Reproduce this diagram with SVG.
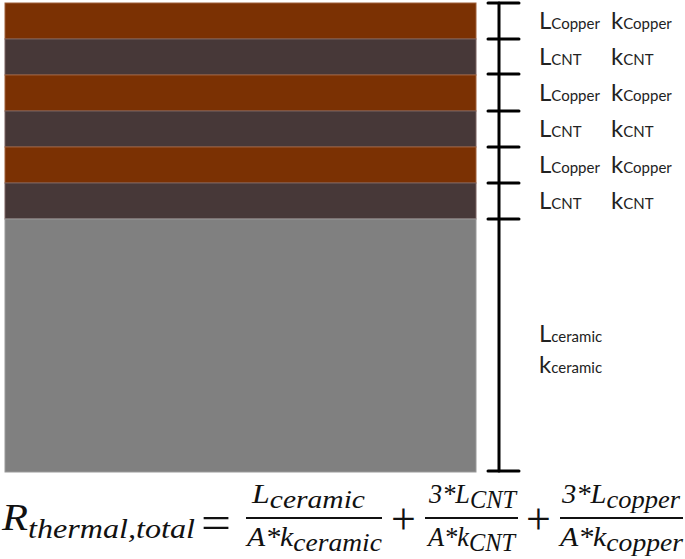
<svg xmlns="http://www.w3.org/2000/svg" width="685" height="559" viewBox="0 0 685 559">
<style>
.cu{fill:#7b3103;stroke:#a0603a;stroke-width:1}
.cnt{fill:#473838;stroke:#7a6260;stroke-width:1}
.cer{fill:#808080;stroke:#9a9a9a;stroke-width:1}
.rl{stroke:#000;stroke-width:3;stroke-linecap:round;fill:none}
.lb{font-family:Lato,"Open Sans",sans-serif;fill:#222}
.big{font-size:24px}
.sm{font-size:15px}
.m{font-family:"Liberation Serif",serif;font-style:italic;fill:#111}
.op{font-family:"Liberation Serif",serif;fill:#111}
.bar{stroke:#111;stroke-width:2}
</style>
<g id="layers">
<rect id="copper1" class="cu" x="5" y="3" width="471" height="36"/>
<rect id="cnt1" class="cnt" x="5" y="39" width="471" height="36"/>
<rect id="copper2" class="cu" x="5" y="75" width="471" height="36"/>
<rect id="cnt2" class="cnt" x="5" y="111" width="471" height="36"/>
<rect id="copper3" class="cu" x="5" y="147" width="471" height="36"/>
<rect id="cnt3" class="cnt" x="5" y="183" width="471" height="36"/>
<rect id="ceramic" class="cer" x="5" y="219" width="471" height="253"/>
</g>
<g id="ruler">
<line class="rl" x1="499" y1="3" x2="499" y2="471"/>
<line class="rl" x1="488" y1="3" x2="519" y2="3"/>
<line class="rl" x1="488" y1="39" x2="519" y2="39"/>
<line class="rl" x1="488" y1="74" x2="519" y2="74"/>
<line class="rl" x1="488" y1="111" x2="519" y2="111"/>
<line class="rl" x1="488" y1="147" x2="519" y2="147"/>
<line class="rl" x1="488" y1="183" x2="519" y2="183"/>
<line class="rl" x1="488" y1="219" x2="519" y2="219"/>
<line class="rl" x1="488" y1="471" x2="519" y2="471"/>
</g>
<g id="labels">
<text class="lb" x="539" y="29"><tspan class="big">L</tspan><tspan class="sm">Copper</tspan></text>
<text class="lb" x="611" y="29"><tspan class="big">k</tspan><tspan class="sm">Copper</tspan></text>
<text class="lb" x="539" y="65"><tspan class="big">L</tspan><tspan class="sm">CNT</tspan></text>
<text class="lb" x="611" y="65"><tspan class="big">k</tspan><tspan class="sm">CNT</tspan></text>
<text class="lb" x="539" y="101"><tspan class="big">L</tspan><tspan class="sm">Copper</tspan></text>
<text class="lb" x="611" y="101"><tspan class="big">k</tspan><tspan class="sm">Copper</tspan></text>
<text class="lb" x="539" y="137"><tspan class="big">L</tspan><tspan class="sm">CNT</tspan></text>
<text class="lb" x="611" y="137"><tspan class="big">k</tspan><tspan class="sm">CNT</tspan></text>
<text class="lb" x="539" y="173"><tspan class="big">L</tspan><tspan class="sm">Copper</tspan></text>
<text class="lb" x="611" y="173"><tspan class="big">k</tspan><tspan class="sm">Copper</tspan></text>
<text class="lb" x="539" y="209"><tspan class="big">L</tspan><tspan class="sm">CNT</tspan></text>
<text class="lb" x="611" y="209"><tspan class="big">k</tspan><tspan class="sm">CNT</tspan></text>
<text class="lb" x="539" y="342"><tspan class="big">L</tspan><tspan class="sm">ceramic</tspan></text>
<text class="lb" x="539" y="373"><tspan class="big">k</tspan><tspan class="sm">ceramic</tspan></text>
</g>
<g id="formula">
<text class="m" x="2" y="530" font-size="38" textLength="26" lengthAdjust="spacingAndGlyphs">R</text>
<text class="m" x="28" y="538" font-size="27" textLength="167" lengthAdjust="spacingAndGlyphs">thermal,total</text>
<text class="op" x="201" y="538" font-size="46" textLength="30" lengthAdjust="spacingAndGlyphs">=</text>
<text class="m" x="252" y="503" font-size="27" textLength="113" lengthAdjust="spacingAndGlyphs">L<tspan dy="5" font-size="25">ceramic</tspan></text>
<line class="bar" x1="246" y1="518" x2="382" y2="518"/>
<text class="m" x="247" y="546" font-size="27" textLength="135" lengthAdjust="spacingAndGlyphs">A*k<tspan dy="5" font-size="25">ceramic</tspan></text>
<text class="op" x="391" y="534" font-size="44">+</text>
<text class="m" x="429" y="503" font-size="27" textLength="87" lengthAdjust="spacingAndGlyphs">3*L<tspan dy="5" font-size="25">CNT</tspan></text>
<line class="bar" x1="425" y1="518" x2="518" y2="518"/>
<text class="m" x="428" y="546" font-size="27" textLength="87" lengthAdjust="spacingAndGlyphs">A*k<tspan dy="5" font-size="25">CNT</tspan></text>
<text class="op" x="526" y="534" font-size="44">+</text>
<text class="m" x="562" y="503" font-size="27" textLength="118" lengthAdjust="spacingAndGlyphs">3*L<tspan dy="5" font-size="25">copper</tspan></text>
<line class="bar" x1="560" y1="518" x2="683" y2="518"/>
<text class="m" x="560" y="546" font-size="27" textLength="123" lengthAdjust="spacingAndGlyphs">A*k<tspan dy="5" font-size="25">copper</tspan></text>
</g>
</svg>
